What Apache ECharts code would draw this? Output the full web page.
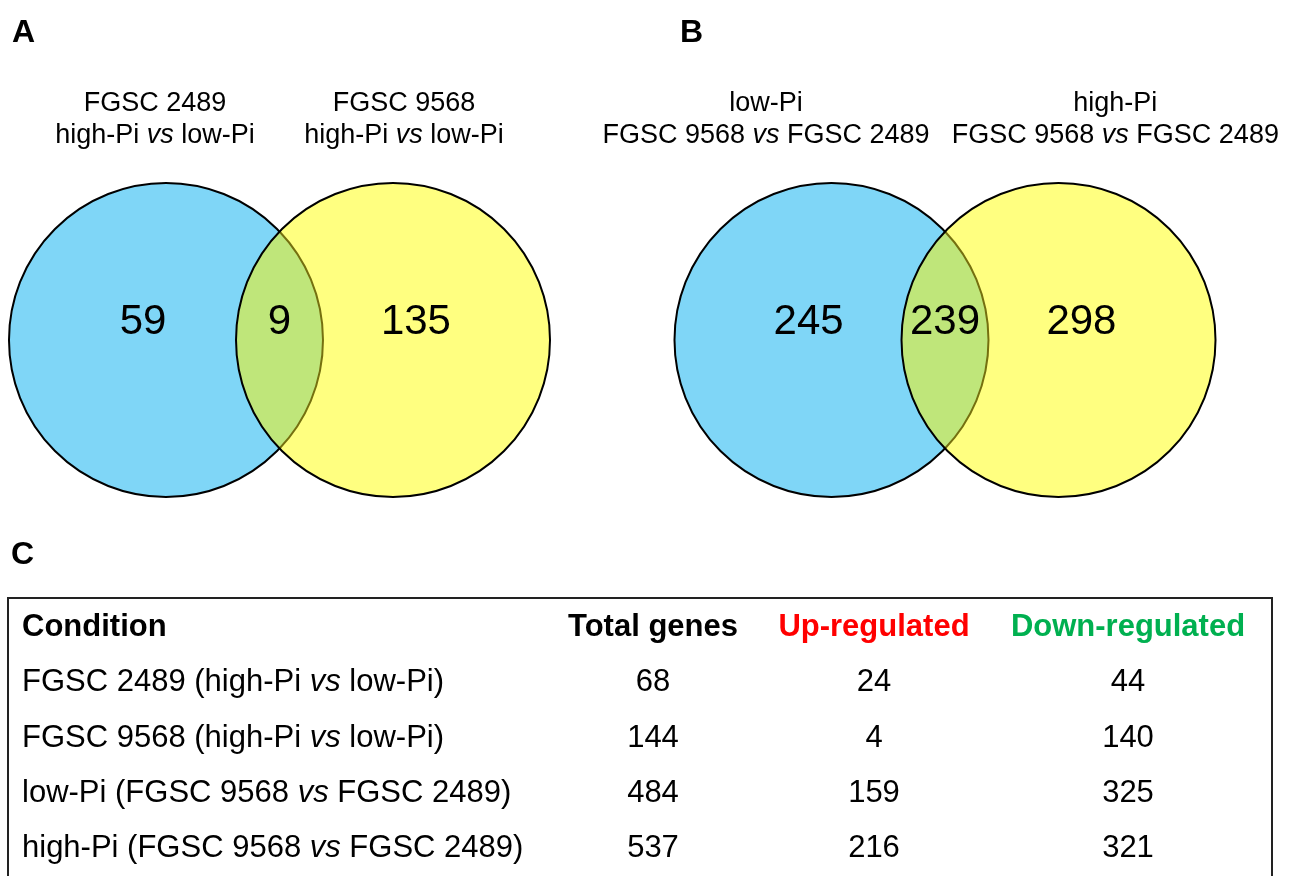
<!DOCTYPE html>
<html><head><meta charset="utf-8">
<script src="https://cdn.jsdelivr.net/npm/echarts@6/dist/echarts.min.js"></script>
<style>html,body{margin:0;padding:0;background:#fff}#c{width:1298px;height:876px}</style>
</head><body><div id="c"></div>
<script>
// ---------- data ----------
const panelLetters = ['A', 'B', 'C'];
const vennA_sets = [['FGSC 2489', 'high-Pi {i|vs} low-Pi'], ['FGSC 9568', 'high-Pi {i|vs} low-Pi']];
const vennA_counts = [59, 9, 135];
const vennB_sets = [['low-Pi', 'FGSC 9568 {i|vs} FGSC 2489'], ['high-Pi', 'FGSC 9568 {i|vs} FGSC 2489']];
const vennB_counts = [245, 239, 298];
const tableHeaders = ['Condition', 'Total genes', 'Up-regulated', 'Down-regulated'];
const tableConditions = [
  'FGSC 2489 (high-Pi {i|vs} low-Pi)',
  'FGSC 9568 (high-Pi {i|vs} low-Pi)',
  'low-Pi (FGSC 9568 {i|vs} FGSC 2489)',
  'high-Pi (FGSC 9568 {i|vs} FGSC 2489)'
];
const totalGenes = [68, 144, 484, 537];
const upRegulated = [24, 4, 159, 216];
const downRegulated = [44, 140, 325, 321];

// ---------- layout / style ----------
const FONT = "'Liberation Sans', Arial, Helvetica, sans-serif";
const BLUE = '#7fd6f7', YELLOW = '#ffff80', GREEN = '#bfe67a', OLIVE = '#75700f';
const venn = { d: 0.723, countX: [-0.869, 0, 0.869], countY: 0.113, labelY: [1.503, 1.30] };
const labelXA = [-0.793, 0.793];
const labelXB = [-1.14, 1.085];
const colX = [22, 653, 874, 1128];
const headerColors = ['#000', '#000', '#ff0000', '#00b050'];
const TABLE_FS = 31;

function italicRich(fs) {
  return { i: { fontStyle: 'italic', fontSize: fs, fontFamily: FONT, fill: '#000' } };
}

function circlesRender(params, api) {
  const p1 = api.coord([-venn.d, 0]), p2 = api.coord([venn.d, 0]);
  const r = api.size([1, 1])[0];
  const cy = p1[1];
  const mx = (p1[0] + p2[0]) / 2;
  const half = (p2[0] - p1[0]) / 2;
  const h = Math.sqrt(r * r - half * half);
  const lens = `M${mx},${cy - h} A${r},${r} 0 0 0 ${mx},${cy + h} A${r},${r} 0 0 0 ${mx},${cy - h} Z`;
  const arc = `M${mx},${cy + h} A${r},${r} 0 0 0 ${mx},${cy - h}`;
  return { type: 'group', children: [
    { type: 'circle', shape: { cx: p1[0], cy: cy, r: r }, style: { fill: BLUE, stroke: '#000', lineWidth: 2 } },
    { type: 'circle', shape: { cx: p2[0], cy: cy, r: r }, style: { fill: YELLOW, stroke: 'none' } },
    { type: 'path', shape: { pathData: lens }, style: { fill: GREEN, stroke: 'none' } },
    { type: 'path', shape: { pathData: arc }, style: { fill: 'none', stroke: OLIVE, lineWidth: 2 } },
    { type: 'circle', shape: { cx: p2[0], cy: cy, r: r }, style: { fill: 'none', stroke: '#000', lineWidth: 2 } }
  ]};
}

function countRender(params, api) {
  const p = api.coord([api.value(0), api.value(1)]);
  return { type: 'text', x: p[0], y: p[1], style: {
    text: String(api.value(2)), fill: '#000', fontSize: 42, fontFamily: FONT,
    align: 'center', verticalAlign: 'middle' } };
}

function labelRenderer(sets) {
  return function (params, api) {
    const p = api.coord([api.value(0), api.value(1)]);
    const k = params.dataIndex;
    const text = sets[Math.floor(k / 2)][k % 2];
    return { type: 'text', x: p[0], y: p[1], style: {
      text: text, fill: '#000', fontSize: 27, fontFamily: FONT,
      align: 'center', verticalAlign: 'middle', rich: italicRich(27) } };
  };
}

function labelData(xs) {
  const d = [];
  xs.forEach(x => { d.push([x, venn.labelY[0]]); d.push([x, venn.labelY[1]]); });
  return d;
}

// table cells
const cells = [];
tableHeaders.forEach((t, c) => cells.push({ value: [colX[c], 0], text: t, bold: true, color: headerColors[c], left: c === 0 }));
tableConditions.forEach((t, r) => {
  cells.push({ value: [colX[0], r + 1], text: t, left: true });
  cells.push({ value: [colX[1], r + 1], text: String(totalGenes[r]) });
  cells.push({ value: [colX[2], r + 1], text: String(upRegulated[r]) });
  cells.push({ value: [colX[3], r + 1], text: String(downRegulated[r]) });
});

function cellRender(params, api) {
  const cell = cells[params.dataIndex];
  const p = api.coord([api.value(0), api.value(1)]);
  return { type: 'text', x: p[0], y: p[1], style: {
    text: cell.text, fill: cell.color || '#000', fontSize: TABLE_FS, fontFamily: FONT,
    fontWeight: cell.bold ? 'bold' : 'normal',
    align: cell.left ? 'left' : 'center', verticalAlign: 'middle', rich: italicRich(TABLE_FS) } };
}

const hiddenVal = (min, max, gi) => ({ type: 'value', min: min, max: max, gridIndex: gi, show: false });

const chart = echarts.init(document.getElementById('c'), null, { renderer: 'canvas' });
chart.setOption({
  animation: false,
  backgroundColor: '#fff',
  grid: [
    { left: 122.5, top: 183, width: 314, height: 314 },
    { left: 788, top: 183, width: 314, height: 314 },
    { left: 0, top: 600, width: 1298, height: 286 }
  ],
  xAxis: [hiddenVal(-1, 1, 0), hiddenVal(-1, 1, 1), hiddenVal(0, 1298, 2)],
  yAxis: [hiddenVal(-1, 1, 0), hiddenVal(-1, 1, 1),
    { type: 'category', gridIndex: 2, inverse: true, data: ['h', 'r1', 'r2', 'r3', 'r4'], show: false }],
  graphic: [
    { type: 'text', left: 12, top: 17, style: { text: panelLetters[0], fontSize: 32, fontWeight: 'bold', fontFamily: FONT, fill: '#000' } },
    { type: 'text', left: 680, top: 17, style: { text: panelLetters[1], fontSize: 32, fontWeight: 'bold', fontFamily: FONT, fill: '#000' } },
    { type: 'text', left: 11, top: 539, style: { text: panelLetters[2], fontSize: 32, fontWeight: 'bold', fontFamily: FONT, fill: '#000' } },
    { type: 'rect', shape: { x: 8, y: 598, width: 1264, height: 320 }, style: { fill: 'none', stroke: '#222', lineWidth: 2 } }
  ],
  series: [
    { type: 'custom', xAxisIndex: 0, yAxisIndex: 0, data: [[0, 0]], renderItem: circlesRender, silent: true },
    { type: 'custom', xAxisIndex: 0, yAxisIndex: 0, data: vennA_counts.map((c, i) => [venn.countX[i], venn.countY, c]), renderItem: countRender, silent: true },
    { type: 'custom', xAxisIndex: 0, yAxisIndex: 0, data: labelData(labelXA), renderItem: labelRenderer(vennA_sets), silent: true },
    { type: 'custom', xAxisIndex: 1, yAxisIndex: 1, data: [[0, 0]], renderItem: circlesRender, silent: true },
    { type: 'custom', xAxisIndex: 1, yAxisIndex: 1, data: vennB_counts.map((c, i) => [venn.countX[i], venn.countY, c]), renderItem: countRender, silent: true },
    { type: 'custom', xAxisIndex: 1, yAxisIndex: 1, data: labelData(labelXB), renderItem: labelRenderer(vennB_sets), silent: true },
    { type: 'custom', xAxisIndex: 2, yAxisIndex: 2, data: cells.map(c => c.value), renderItem: cellRender, silent: true }
  ]
});
</script>
</body></html>
